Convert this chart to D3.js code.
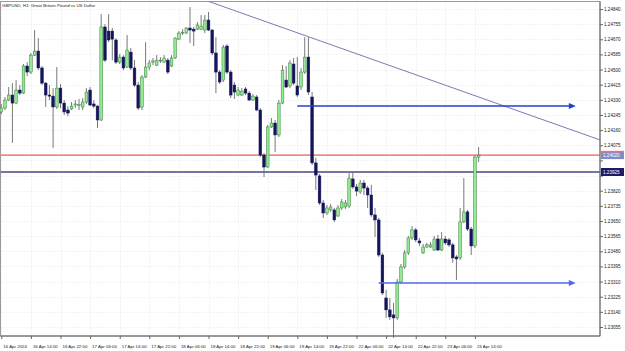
<!DOCTYPE html>
<html>
<head>
<meta charset="utf-8">
<script src="https://cdn.jsdelivr.net/npm/d3@7"></script>
<style>
  body { margin: 0; background: #fff; }
  svg { display: block; }
  text { font-family: "Liberation Sans", Arial, sans-serif; }
</style>
</head>
<body>
<svg id="chart" width="625" height="351"></svg>
<script>
// GBPUSD H1 bars, first bar = 16 Apr 2024 06:00
const opens = [1.24262,1.24284,1.24329,1.24357,1.24312,1.24385,1.24368,1.24520,1.24486,1.24581,
  1.24604,1.24509,1.24424,1.24357,1.24351,1.24290,1.24396,1.24312,1.24273,1.24279,
  1.24301,1.24301,1.24290,1.24318,1.24385,1.24307,1.24295,1.24217,1.24739,1.24716,
  1.24716,1.24666,1.24542,1.24570,1.24514,1.24598,1.24509,1.24413,1.24290,1.24458,
  1.24514,1.24542,1.24525,1.24548,1.24542,1.24553,1.24520,1.24565,1.24671,1.24705,
  1.24705,1.24733,1.24727,1.24727,1.24727,1.24722,1.24778,1.24722,1.24593,1.24486,
  1.24441,1.24632,1.24486,1.24413,1.24357,1.24357,1.24391,1.24368,1.24329,1.24346,
  1.24273,1.24020,1.23953,1.24178,1.24200,1.24133,1.24312,1.24441,1.24408,1.24531,
  1.24408,1.24402,1.24486,1.24570,1.24346,1.23976,1.23903,1.23751,1.23695,1.23712,
  1.23712,1.23678,1.23723,1.23729,1.23734,1.23886,1.23841,1.23813,1.23863,1.23835,
  1.23796,1.23684,1.23656,1.23459,1.23218,1.23151,1.23123,1.23106,1.23308,1.23392,
  1.23471,1.23555,1.23600,1.23538,1.23471,1.23504,1.23504,1.23487,1.23549,1.23487,
  1.23549,1.23544,1.23516,1.23448,1.23443,1.23645,1.23701,1.23605,1.23510,1.24009];
const highs = [1.24307,1.24346,1.24402,1.24424,1.24441,1.24413,1.24531,1.24542,1.24593,1.24722,
  1.24677,1.24520,1.24430,1.24413,1.24396,1.24514,1.24419,1.24329,1.24295,1.24318,
  1.24329,1.24335,1.24340,1.24396,1.24402,1.24329,1.24301,1.24811,1.24755,1.24811,
  1.24733,1.24677,1.24587,1.24581,1.24694,1.24621,1.24553,1.24430,1.24469,1.24654,
  1.24553,1.24565,1.24581,1.24570,1.24581,1.24565,1.24581,1.24682,1.24716,1.24727,
  1.24739,1.24851,1.24739,1.24767,1.24806,1.24806,1.24823,1.24727,1.24682,1.24497,
  1.24638,1.24643,1.24497,1.24430,1.24402,1.24396,1.24402,1.24379,1.24363,1.24357,
  1.24284,1.24032,1.24189,1.24228,1.24217,1.24329,1.24525,1.24520,1.24553,1.24565,
  1.24570,1.24509,1.24682,1.24682,1.24374,1.24004,1.23914,1.23768,1.23740,1.23746,
  1.23723,1.23740,1.23774,1.23768,1.23919,1.23925,1.23858,1.23880,1.23880,1.23847,
  1.23853,1.23723,1.23667,1.23471,1.23263,1.23218,1.23190,1.23325,1.23409,1.23487,
  1.23566,1.23622,1.23611,1.23555,1.23521,1.23527,1.23532,1.23566,1.23572,1.23588,
  1.23566,1.23555,1.23527,1.23459,1.23723,1.23891,1.23712,1.23617,1.24020,1.24065];
const lows = [1.24250,1.24273,1.24323,1.24088,1.24307,1.24357,1.24363,1.24464,1.24475,1.24576,
  1.24497,1.24413,1.24290,1.24329,1.24060,1.24279,1.24284,1.24245,1.24239,1.24273,
  1.24284,1.24273,1.24273,1.24307,1.24295,1.24284,1.24172,1.24211,1.24542,1.24654,
  1.24553,1.24531,1.24531,1.24497,1.24509,1.24497,1.24402,1.24273,1.24273,1.24452,
  1.24497,1.24525,1.24520,1.24537,1.24537,1.24475,1.24514,1.24559,1.24666,1.24694,
  1.24699,1.24649,1.24632,1.24722,1.24722,1.24705,1.24716,1.24581,1.24368,1.24419,
  1.24430,1.24475,1.24340,1.24335,1.24351,1.24351,1.24357,1.24323,1.24323,1.24267,
  1.24009,1.23897,1.23948,1.24172,1.24037,1.24121,1.24307,1.24396,1.24396,1.24413,
  1.24346,1.24385,1.24475,1.24357,1.23964,1.23824,1.23740,1.23667,1.23684,1.23701,
  1.23645,1.23673,1.23712,1.23718,1.23723,1.23830,1.23790,1.23802,1.23796,1.23723,
  1.23673,1.23560,1.23448,1.23235,1.23106,1.23095,1.22994,1.23095,1.23297,1.23381,
  1.23459,1.23544,1.23532,1.23510,1.23465,1.23499,1.23499,1.23482,1.23482,1.23482,
  1.23516,1.23504,1.23415,1.23319,1.23431,1.23639,1.23594,1.23459,1.23499,1.23981];
const closes = [1.24284,1.24329,1.24357,1.24312,1.24385,1.24368,1.24520,1.24486,1.24581,1.24604,
  1.24509,1.24424,1.24357,1.24351,1.24290,1.24396,1.24312,1.24262,1.24256,1.24295,
  1.24307,1.24303,1.24318,1.24374,1.24301,1.24295,1.24217,1.24739,1.24553,1.24666,
  1.24671,1.24542,1.24570,1.24509,1.24609,1.24509,1.24413,1.24284,1.24458,1.24514,
  1.24537,1.24548,1.24553,1.24553,1.24565,1.24486,1.24565,1.24677,1.24705,1.24710,
  1.24733,1.24722,1.24716,1.24750,1.24744,1.24778,1.24722,1.24593,1.24486,1.24430,
  1.24626,1.24486,1.24357,1.24374,1.24385,1.24379,1.24368,1.24329,1.24351,1.24273,
  1.24020,1.23953,1.24178,1.24200,1.24133,1.24312,1.24497,1.24402,1.24537,1.24424,
  1.24357,1.24486,1.24570,1.24374,1.23976,1.23908,1.23751,1.23695,1.23723,1.23729,
  1.23656,1.23723,1.23757,1.23751,1.23891,1.23841,1.23818,1.23863,1.23835,1.23796,
  1.23684,1.23656,1.23459,1.23246,1.23151,1.23112,1.23106,1.23308,1.23392,1.23471,
  1.23555,1.23600,1.23544,1.23527,1.23504,1.23516,1.23516,1.23549,1.23487,1.23549,
  1.23527,1.23516,1.23443,1.23437,1.23645,1.23701,1.23605,1.23510,1.24009,1.24020];

const timeLabels = ['16 Apr 2024','16 Apr 14:00','16 Apr 22:00','17 Apr 06:00','17 Apr 14:00',
  '17 Apr 22:00','18 Apr 06:00','18 Apr 14:00','18 Apr 22:00','19 Apr 06:00','19 Apr 14:00',
  '19 Apr 22:00','22 Apr 06:00','22 Apr 14:00','22 Apr 22:00','23 Apr 06:00','23 Apr 14:00'];
const priceTicks = [1.24840,1.24755,1.24670,1.24585,1.24500,1.24415,1.24330,1.24245,1.24160,
  1.24075,1.23990,1.23905,1.23820,1.23735,1.23650,1.23565,1.23480,1.23395,1.23310,1.23225,
  1.23140,1.23055];

const redLevel = 1.24020;
const slateLevel = 1.23925;
const upperArrow = { from: 80, to: 155, price: 1.24295 };
const lowerArrow = { from: 102, to: 155, price: 1.23302 };
const trendStart = { i: 82.5, price: 1.24688 };
const trendEnd = { i: 161.8, price: 1.24105 };

const plot = { left: 0.5, top: 1.5, right: 600, bottom: 336 };
const svg = d3.select('#chart');

const x = d3.scaleLinear().domain([0, 161.8]).range([1.3, 600]);
const y = d3.scaleLinear().domain([1.23055, 1.24840]).range([327, 9]);
const fmt = d3.format('.5f');

svg.append('defs').append('clipPath').attr('id', 'plotclip')
  .append('rect').attr('x', plot.left).attr('y', plot.top)
  .attr('width', plot.right - plot.left).attr('height', plot.bottom - plot.top);

// grid
const grid = svg.append('g').attr('stroke', '#d6d6d6').attr('stroke-width', 0.6)
  .attr('stroke-dasharray', '1,2');
grid.selectAll('.hg').data(priceTicks).enter().append('line')
  .attr('x1', plot.left).attr('x2', plot.right)
  .attr('y1', d => Math.round(y(d)) + 0.5).attr('y2', d => Math.round(y(d)) + 0.5);
grid.selectAll('.vg').data(d3.range(0, 130, 8)).enter().append('line')
  .attr('x1', d => Math.round(x(d)) + 0.5).attr('x2', d => Math.round(x(d)) + 0.5)
  .attr('y1', plot.top).attr('y2', plot.bottom);

// frame
svg.append('rect').attr('x', plot.left).attr('y', plot.top)
  .attr('width', plot.right - plot.left).attr('height', plot.bottom - plot.top)
  .attr('fill', 'none').attr('stroke', '#9a9a9a').attr('stroke-width', 1);

// horizontal levels
svg.append('line').attr('x1', plot.left).attr('x2', plot.right)
  .attr('y1', y(redLevel)).attr('y2', y(redLevel))
  .attr('stroke', '#f08a8a').attr('stroke-width', 1.8);
svg.append('line').attr('x1', plot.left).attr('x2', plot.right)
  .attr('y1', y(slateLevel)).attr('y2', y(slateLevel))
  .attr('stroke', '#7474a6').attr('stroke-width', 1.8);

// candles
const bars = d3.range(opens.length).map(i => ({
  i, o: opens[i], h: highs[i], l: lows[i], c: closes[i]
}));
const candles = svg.append('g');
candles.selectAll('.wick').data(bars).enter().append('line')
  .attr('x1', d => x(d.i)).attr('x2', d => x(d.i))
  .attr('y1', d => y(d.h)).attr('y2', d => y(d.l))
  .attr('stroke', '#6a6a6a').attr('stroke-width', 0.9);
const bodyW = 2.7;
candles.selectAll('.body').data(bars).enter().append('rect')
  .attr('x', d => x(d.i) - bodyW / 2)
  .attr('y', d => y(Math.max(d.o, d.c)))
  .attr('width', bodyW)
  .attr('height', d => Math.max(0.8, Math.abs(y(d.o) - y(d.c))))
  .attr('fill', d => d.c >= d.o ? '#90ec90' : '#15155c')
  .attr('stroke', d => d.c >= d.o ? '#3d7a3d' : '#15155c')
  .attr('stroke-width', 0.5);

// trend line
const slope = (trendEnd.price - trendStart.price) / (trendEnd.i - trendStart.i);
const tFrom = 40;
svg.append('line').attr('clip-path', 'url(#plotclip)')
  .attr('x1', x(tFrom)).attr('y1', y(trendStart.price + slope * (tFrom - trendStart.i)))
  .attr('x2', x(trendEnd.i)).attr('y2', y(trendEnd.price))
  .attr('stroke', '#7a7ab4').attr('stroke-width', 1);

// arrows
function arrow(a, color) {
  const yy = y(a.price), xe = x(a.to);
  svg.append('line').attr('x1', x(a.from)).attr('x2', xe - 5)
    .attr('y1', yy).attr('y2', yy).attr('stroke', color).attr('stroke-width', 1.5);
  svg.append('path')
    .attr('d', `M${xe - 6},${yy - 3}L${xe + 1},${yy}L${xe - 6},${yy + 3}Z`)
    .attr('fill', color);
}
arrow(upperArrow, '#2340d2');
arrow(lowerArrow, '#5468f0');

// price axis (labels hidden where a level box sits on top of them)
const boxed = [redLevel, slateLevel];
const yAxis = d3.axisRight(y).tickValues(priceTicks).tickFormat(fmt).tickSize(3).tickSizeOuter(0);
const ya = svg.append('g').attr('transform', `translate(${plot.right},0)`).call(yAxis);
ya.select('.domain').attr('stroke', '#666').attr('d', `M0,${plot.top}V${plot.bottom}`);
ya.selectAll('.tick line').attr('stroke', '#666');
ya.selectAll('.tick text').attr('x', 4).attr('font-size', 4.6).attr('fill', '#222')
  .attr('font-family', '"Liberation Sans", Arial, sans-serif')
  .style('display', d => boxed.some(b => Math.abs(y(b) - y(d)) < 8) ? 'none' : null);

// time axis
const xAxis = d3.axisBottom(x).tickValues(d3.range(0, 130, 8))
  .tickFormat((d, k) => timeLabels[k]).tickSize(3).tickSizeOuter(0);
const xa = svg.append('g').attr('transform', `translate(0,${plot.bottom})`).call(xAxis);
xa.select('.domain').attr('stroke', '#666').attr('d', `M${plot.left},0H${plot.right}`);
xa.selectAll('.tick line').attr('stroke', '#666');
xa.selectAll('.tick text').attr('text-anchor', 'start').attr('x', 1.5).attr('y', 8.5)
  .attr('font-size', 4.4).attr('fill', '#222')
  .attr('font-family', '"Liberation Sans", Arial, sans-serif');

// level labels on the price scale
function levelBox(price, fill, border) {
  const yy = y(price);
  const g = svg.append('g');
  g.append('rect').attr('x', plot.right + 1).attr('y', yy - 4).attr('width', 23).attr('height', 8)
    .attr('fill', fill);
  if (border) {
    g.append('line').attr('x1', plot.right).attr('x2', plot.right + 24)
      .attr('y1', yy - 3.5).attr('y2', yy - 3.5).attr('stroke', border).attr('stroke-width', 1.5);
  }
  g.append('text').attr('x', plot.right + 3).attr('y', yy + 2.2).attr('font-size', 4.6)
    .attr('fill', '#fff').text(fmt(price));
}
levelBox(redLevel, '#7f8cc6', '#f07070');
levelBox(slateLevel, '#1c1c68', null);

// title
svg.append('text').attr('x', 2).attr('y', 6.5).attr('font-size', 4.4).attr('fill', '#222')
  .text('GBPUSD, H1:  Great Britain Pound vs US Dollar');
</script>
</body>
</html>
